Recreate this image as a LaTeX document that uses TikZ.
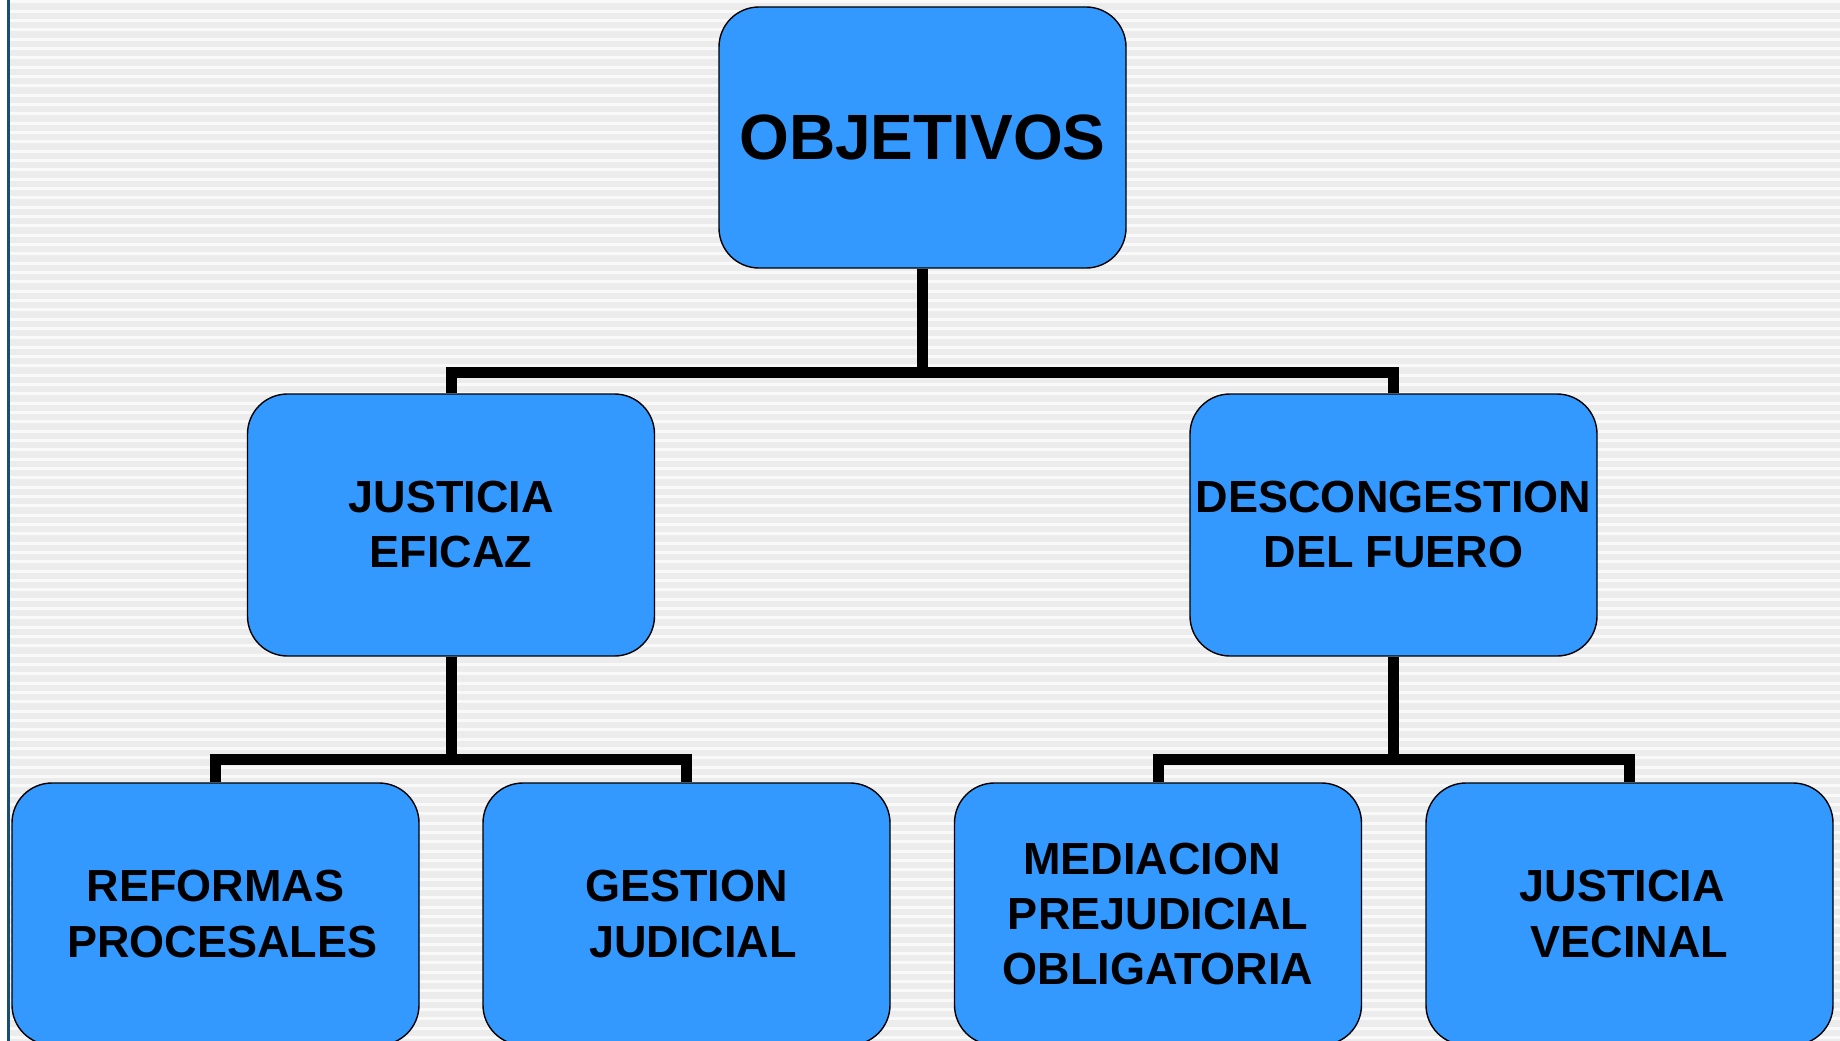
\documentclass[tikz,border=0pt]{standalone}
\usepackage{fontspec}
\setmainfont{Liberation Sans}
\definecolor{boxblue}{RGB}{51,153,255}
\definecolor{edgeblue}{RGB}{24,78,112}
\definecolor{bggray}{RGB}{236,236,236}
\tikzset{
  box/.style={draw=black, line width=1.4pt, fill=boxblue, rounded corners=40pt,
    minimum width=407pt, minimum height=262pt, inner sep=0pt, align=center,
    font=\bfseries\fontsize{45}{55}\selectfont},
  conn/.style={draw=black, line width=11pt, line join=miter}
}
\begin{document}
\begin{tikzpicture}[x=1pt,y=-1pt]
\useasboundingbox (0,0) rectangle (1840,1041);
\clip (0,0) rectangle (1840,1041);
\fill[white] (0,0) rectangle (1840,1041);
\fill[bggray] (9,0) rectangle (1840,1041);
\foreach \i in {0,...,112}{
  \fill[white!70!bggray] (9,{\i*9.33+0.5}) rectangle (1840,{\i*9.33+3.5});
}
\fill[edgeblue] (7,0) rectangle (9.5,1041);

\node[box, minimum height=261pt, font=\bfseries\fontsize{64}{70}\selectfont] (obj) at (922.5,137.5) {\raisebox{-1.5pt}{OBJETIVOS}};
\node[box] (je) at (451,525) {\raisebox{-2pt}{JUSTICIA}\\\raisebox{-2pt}{EFICAZ}};
\node[box] (dc) at (1393.5,525) {\raisebox{-2pt}{DESCONGESTION}\\\raisebox{-2pt}{DEL FUERO}};
\node[box] (rp) at (215.5,914) {REFORMAS\\\hspace*{14pt}PROCESALES};
\node[box] (gj) at (686.5,914) {GESTION\\\hspace*{13pt}JUDICIAL};
\node[box] (mp) at (1158,914) {MEDIACION\hspace*{12pt}\\PREJUDICIAL\\OBLIGATORIA};
\node[box] (jv) at (1629.5,914) {JUSTICIA\hspace*{15pt}\\VECINAL};

\coordinate (j1) at (922.5,372);
\coordinate (j2) at (451,759);
\coordinate (j3) at (1393.5,759);
\draw[conn] (obj.south) -- (j1);
\draw[conn] (je.north) |- (j1) -| (dc.north);
\draw[conn] (je.south) -- (j2);
\draw[conn] (rp.north) |- (j2) -| (gj.north);
\draw[conn] (dc.south) -- (j3);
\draw[conn] (mp.north) |- (j3) -| (jv.north);
\end{tikzpicture}
\end{document}
